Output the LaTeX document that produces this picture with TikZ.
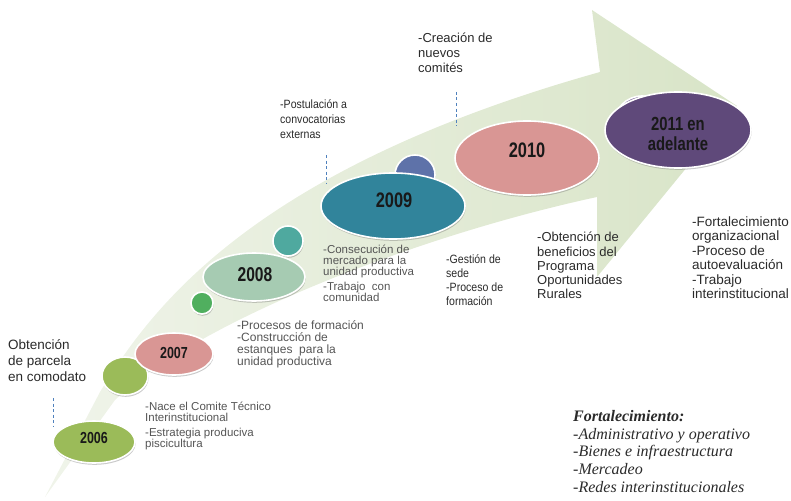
\documentclass[tikz,border=0pt]{standalone}
\usepackage{fontspec}
\usetikzlibrary{shapes.geometric,shadows}
\newfontfamily\sansf{Liberation Sans}
\newfontfamily\narrowf[FakeStretch=0.88]{Liberation Sans}
\newfontfamily\yearf[FakeStretch=0.78]{Liberation Sans}
\newfontfamily\seriff{Liberation Serif}
\definecolor{arrowL}{HTML}{F0F4EA}
\definecolor{arrowR}{HTML}{D8E4C7}
\definecolor{cOlive}{HTML}{9BBB59}
\definecolor{cRose}{HTML}{D99694}
\definecolor{cGreen}{HTML}{50AF5F}
\definecolor{cTealS}{HTML}{4FA99F}
\definecolor{cMint}{HTML}{A6CBB2}
\definecolor{cBlueS}{HTML}{5E72A9}
\definecolor{cTeal}{HTML}{31849B}
\definecolor{cPurpS}{HTML}{7F6A9A}
\definecolor{cPurp}{HTML}{5F497A}
\definecolor{dashblue}{HTML}{4F81BD}
\definecolor{notegray}{HTML}{555555}
\definecolor{darktext}{HTML}{2A2A2A}
\begin{document}
\begin{tikzpicture}[x=1pt,y=-1pt,
  bubble/.style={ellipse, draw=white, line width=1.6pt, inner sep=0pt,
    drop shadow={shadow xshift=0.6pt, shadow yshift=-1.8pt, opacity=0.35, fill=black!60}},
  year/.style={inner sep=0pt, align=center, text=black!90},
  note/.style={anchor=north west, inner sep=0pt, align=left},
  dashline/.style={draw=dashblue, line width=0.9pt, dash pattern=on 3pt off 2.5pt}]
\useasboundingbox (0,0) rectangle (791,500);

% curved arrow
\path[left color=arrowL, right color=arrowR]
  (45,497) -- (100,392) .. controls (150,310) and (250,170) .. (600,72)
  -- (592,10) -- (737,106) -- (597,277) -- (597,197)
  .. controls (420,235) and (200,320) .. (115,400) -- cycle;

% bubbles
\node[bubble, fill=cOlive, minimum width=46pt, minimum height=38pt] (sG1) at (125,376) {};
\node[bubble, fill=cOlive, minimum width=82pt, minimum height=42pt] (e2006) at (94,442) {};
\node[bubble, fill=cRose, minimum width=78pt, minimum height=42pt] (e2007) at (174,354) {};
\node[bubble, fill=cGreen, minimum width=22pt, minimum height=22pt] (sG2) at (202,303) {};
\node[bubble, fill=cTealS, minimum width=30pt, minimum height=30pt] (sT) at (288,241) {};
\node[bubble, fill=cMint, minimum width=102pt, minimum height=48pt] (e2008) at (254,277) {};
\node[bubble, fill=cBlueS, minimum width=40pt, minimum height=40pt] (sB) at (415,175) {};
\node[bubble, fill=cTeal, minimum width=144pt, minimum height=66pt] (e2009) at (393,206) {};
\node[bubble, fill=cRose, minimum width=144pt, minimum height=74pt] (e2010) at (527,158) {};
\node[bubble, fill=cPurpS, minimum width=56pt, minimum height=56pt] (sP) at (642,124) {};
\node[bubble, fill=cPurp, minimum width=146pt, minimum height=76pt] (e2011) at (678,130) {};

% year labels
\node[year, font=\yearf\bfseries\fontsize{16}{16}\selectfont] (t2006) at (94,438) {2006};
\node[year, font=\yearf\bfseries\fontsize{16}{16}\selectfont] (t2007) at (174,353) {2007};
\node[year, font=\yearf\bfseries\fontsize{20}{20}\selectfont] (t2008) at (255,275) {2008};
\node[year, font=\yearf\bfseries\fontsize{21}{21}\selectfont] (t2009) at (394,200) {2009};
\node[year, font=\yearf\bfseries\fontsize{21}{21}\selectfont] (t2010) at (527,150) {2010};
\node[year, font=\yearf\bfseries\fontsize{19}{19.5}\selectfont] (t2011) at (678,134) {2011 en\\adelante};

% dashed markers
\coordinate (d1a) at (53,398); \coordinate (d1b) at (53,427);
\coordinate (d2a) at (326,155); \coordinate (d2b) at (326,183);
\coordinate (d3a) at (456,92); \coordinate (d3b) at (456,126);
\draw[dashline] (d1a) -- (d1b);
\draw[dashline] (d2a) -- (d2b);
\draw[dashline] (d3a) -- (d3b);

% notes
\node[note, text=darktext, font=\sansf\fontsize{13.5}{16}\selectfont] (nObt) at (8,339)
  {Obtención\\de parcela\\en comodato};
\node[note, text=notegray, font=\sansf\fontsize{11.5}{11}\selectfont] (nNace) at (145,401.5)
  {-Nace el Comite Técnico\\Interinstitucional\\[4pt]-Estrategia produciva\\piscicultura};
\node[note, text=notegray, font=\sansf\fontsize{12}{11.7}\selectfont] (nProc) at (237,320)
  {-Procesos de formación\\[1pt]-Construcción de\\estanques\ \ para la\\unidad productiva};
\node[note, text=notegray, font=\sansf\fontsize{11.5}{11}\selectfont] (nCons) at (323,244.4)
  {-Consecución de\\mercado para la\\unidad productiva\\[4pt]-Trabajo\ \ con\\comunidad};
\node[note, text=darktext, font=\narrowf\fontsize{12}{15}\selectfont] (nPost) at (280,99)
  {-Postulación a\\convocatorias\\externas};
\node[note, text=darktext, font=\narrowf\fontsize{12}{14.3}\selectfont] (nGest) at (446,254)
  {-Gestión de\\sede\\-Proceso de\\formación};
\node[note, text=darktext, font=\sansf\fontsize{13}{15}\selectfont] (nCrea) at (418,33)
  {-Creación de\\nuevos\\comités};
\node[note, text=darktext, font=\sansf\fontsize{13}{14.3}\selectfont] (nBen) at (537,232)
  {-Obtención de\\beneficios del\\Programa\\Oportunidades\\Rurales};
\node[note, text=darktext, font=\sansf\fontsize{13.5}{14.5}\selectfont] (nFort) at (692,216.1)
  {-Fortalecimiento\\organizacional\\-Proceso de\\autoevaluación\\-Trabajo\\interinstitucional};
\node[note, text=darktext, font=\seriff\itshape\fontsize{16}{17.7}\selectfont] (nItal) at (573,410)
  {\textbf{Fortalecimiento:}\\-Administrativo y operativo\\-Bienes e infraestructura\\-Mercadeo\\-Redes interinstitucionales};
\end{tikzpicture}
\end{document}
